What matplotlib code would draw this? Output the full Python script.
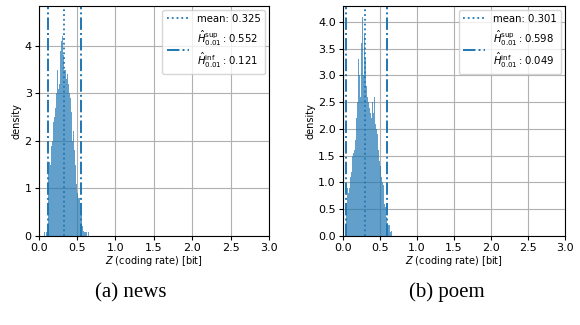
import numpy as np
import matplotlib
matplotlib.use('Agg')
import matplotlib.pyplot as plt

plt.rcParams['font.size'] = 7

# bin left edges (width 0.01) and densities
news_start = 0.04
news_density = [0, 0.08, 0, 0.08, 0, 0, 0.08, 0, 1.3, 1.5,
                1.55, 1.5, 1.9, 2.0, 2.2, 2.4, 2.5, 2.7, 2.9, 3.0,
                3.5, 3.1, 3.5, 3.2, 3.9, 4.1, 4.0, 4.2, 3.8, 3.5,
                3.5, 3.4, 3.3, 3.4, 3.2, 3.1, 3.0, 2.9, 2.6, 2.3,
                2.0, 2.2, 1.8, 1.5, 1.3, 1.1, 0.9, 0.8, 0.7, 0.8,
                0.55, 0.55, 0.3, 0.2, 0.1, 0.08, 0.08, 0, 0.08, 0,
                0.08]
poem_start = 0.04
poem_density = [0.45, 0.5, 0.9, 0.8, 1.0, 0.9, 1.1, 1.2, 1.3, 1.5,
                1.55, 1.6, 1.5, 1.8, 2.2, 2.5, 3.2, 3.3, 3.0, 2.6,
                3.1, 3.6, 4.1, 3.0, 3.3, 3.75, 3.3, 3.2, 2.8, 2.6,
                2.5, 2.7, 2.4, 2.3, 2.2, 2.6, 2.5, 2.3, 2.6, 2.2,
                2.1, 2.0, 1.9, 1.7, 1.6, 1.4, 1.3, 1.2, 1.1, 1.0,
                0.95, 0.8, 0.6, 0.55, 0.4, 0.35, 0.25, 0.2, 0.1, 0.2,
                0.08, 0.1]
bin_w = 0.01

news_stats = {'mean': 0.325, 'sup': 0.552, 'inf': 0.121}
poem_stats = {'mean': 0.301, 'sup': 0.598, 'inf': 0.049}

captions = ['(a) news', '(b) poem']
ylims = [4.84, 4.30]
yticks = [np.arange(0, 5, 1), np.arange(0, 4.01, 0.5)]

fig = plt.figure(figsize=(5.8, 3.25), dpi=100)
ax1 = fig.add_axes([0.0667, 0.274, 0.397, 0.708])
ax2 = fig.add_axes([0.591, 0.274, 0.383, 0.708])

panels = [(ax1, news_start, news_density, news_stats),
          (ax2, poem_start, poem_density, poem_stats)]

for i, (ax, start, dens, st) in enumerate(panels):
    lefts = start + bin_w * np.arange(len(dens))
    ax.bar(lefts, dens, width=bin_w, align='edge', color='C0', alpha=0.7, linewidth=0)
    ax.axvline(st['mean'], color='C0', linestyle=':', linewidth=1.3,
               label='mean: %.3f' % st['mean'])
    ax.axvline(st['sup'], color='C0', linestyle='-.', linewidth=1.4,
               label='$\\hat{H}^{\\rm sup}_{0.01}: %.3f$\n$\\hat{H}^{\\rm inf}_{0.01}: %.3f$'
                     % (st['sup'], st['inf']))
    ax.axvline(st['inf'], color='C0', linestyle='-.', linewidth=1.4)
    ax.set_xlim(0, 3)
    ax.set_ylim(0, ylims[i])
    ax.set_xticks(np.arange(0, 3.01, 0.5))
    ax.set_yticks(yticks[i])
    if i == 1:
        ax.set_yticklabels(['%.1f' % v for v in yticks[i]])
    ax.grid(True, color='#b0b0b0', linewidth=0.8)
    ax.set_axisbelow(True)
    ax.set_xlabel('$Z$ (coding rate) [bit]', labelpad=1)
    ax.set_ylabel('density', labelpad=2)
    ax.tick_params(length=3, pad=2, labelsize=8)
    ax.legend(loc='upper right', fontsize=7.3, handlelength=2.2, borderaxespad=0.4)

fig.text(0.225, 0.1, captions[0], family='Liberation Serif', fontsize=15, ha='center', va='center')
fig.text(0.77, 0.1, captions[1], family='Liberation Serif', fontsize=15, ha='center', va='center')

fig.savefig('out.png', dpi=100)
